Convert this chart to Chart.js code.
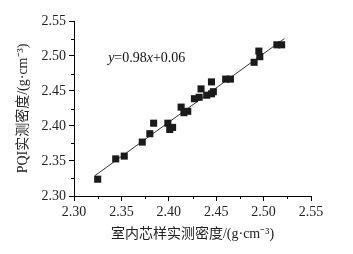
<!DOCTYPE html>
<html lang="zh">

<head>
    <meta charset="UTF-8">
    <title>PQI vs core density</title>
    <script src="https://cdn.jsdelivr.net/npm/chart.js"></script>
    <style>
        html, body { margin: 0; padding: 0; background: #fff; }
        #wrap { width: 353px; height: 254px; position: relative; }
    </style>
</head>

<body>
    <div id="wrap"><canvas id="densChart"></canvas></div>

    <script>
        // core sample density (x) vs PQI density (y), g/cm3
        const coreDensity = [2.325, 2.344, 2.353, 2.372, 2.380, 2.384, 2.399, 2.401, 2.404, 2.413,
            2.416, 2.420, 2.427, 2.432, 2.434, 2.440, 2.445, 2.445, 2.447, 2.460,
            2.465, 2.490, 2.496, 2.495, 2.514, 2.519];
        const pqiDensity = [2.324, 2.353, 2.357, 2.377, 2.389, 2.404, 2.404, 2.395, 2.398, 2.427,
            2.419, 2.421, 2.439, 2.441, 2.453, 2.444, 2.446, 2.463, 2.449, 2.467,
            2.467, 2.491, 2.499, 2.507, 2.516, 2.516];
        // fitted line end points
        const fitX = [2.322, 2.522];
        const fitY = [2.329, 2.525];
        const eqText = 'y=0.98x+0.06';
        const xTitle = '室内芯样实测密度/(g·cm⁻³)';
        const yTitle = 'PQI实测密度/(g·cm⁻³)';

        const serif = "'Liberation Serif', 'Times New Roman', 'Noto Sans CJK SC', serif";

        // minor ticks + equation label
        const extras = {
            id: 'extras',
            afterDraw(chart) {
                const ctx = chart.ctx;
                const xs = chart.scales.x, ys = chart.scales.y;
                ctx.save();
                ctx.strokeStyle = '#000';
                ctx.lineWidth = 1;
                ctx.beginPath();
                for (let v = 2.325; v < 2.55; v += 0.05) {
                    const px = Math.round(xs.getPixelForValue(v)) + 0.5;
                    ctx.moveTo(px, ys.bottom);
                    ctx.lineTo(px, ys.bottom + 3);
                    const py = Math.round(ys.getPixelForValue(v)) + 0.5;
                    ctx.moveTo(xs.left, py);
                    ctx.lineTo(xs.left - 3, py);
                }
                ctx.stroke();

                // equation, italic y and x
                let x = xs.getPixelForValue(2.336);
                const y = ys.getPixelForValue(2.497);
                ctx.fillStyle = '#111';
                ctx.textBaseline = 'middle';
                const parts = [['y', true], ['=0.98', false], ['x', true], ['+0.06', false]];
                parts.forEach(([t, it]) => {
                    ctx.font = (it ? 'italic ' : '') + '14px ' + serif;
                    ctx.fillText(t, x, y);
                    x += ctx.measureText(t).width;
                });
                ctx.restore();
            }
        };

        const ctx = document.getElementById('densChart').getContext('2d');
        new Chart(ctx, {
            type: 'scatter',
            data: {
                datasets: [{
                    label: 'data',
                    data: coreDensity.map((v, i) => ({ x: v, y: pqiDensity[i] })),
                    pointStyle: 'rect',
                    pointRadius: 5,
                    backgroundColor: '#1a1a1a',
                    borderColor: '#1a1a1a',
                    borderWidth: 0
                }, {
                    type: 'line',
                    label: 'fit',
                    data: fitX.map((v, i) => ({ x: v, y: fitY[i] })),
                    borderColor: '#333',
                    borderWidth: 1,
                    pointRadius: 0,
                    fill: false
                }]
            },
            options: {
                responsive: true,
                maintainAspectRatio: false,
                animation: false,
                layout: { padding: { left: 0, top: 21, right: 42, bottom: 0 } },
                plugins: { legend: { display: false }, tooltip: { enabled: false } },
                scales: {
                    x: {
                        type: 'linear',
                        min: 2.30,
                        max: 2.55,
                        afterFit: s => { s.height = 58; },
                        ticks: {
                            stepSize: 0.05,
                            color: '#222',
                            padding: 3,
                            font: { family: serif, size: 14 },
                            callback: v => v.toFixed(2)
                        },
                        grid: { drawOnChartArea: false, tickLength: 5, color: '#000' },
                        border: { color: '#000', width: 1 },
                        title: {
                            display: true,
                            text: xTitle,
                            color: '#222',
                            font: { family: serif, size: 14 },
                            padding: { top: 0, bottom: 11 }
                        }
                    },
                    y: {
                        type: 'linear',
                        min: 2.30,
                        max: 2.55,
                        afterFit: s => { s.width = 74; },
                        ticks: {
                            stepSize: 0.05,
                            color: '#222',
                            padding: 3,
                            font: { family: serif, size: 14 },
                            callback: v => v.toFixed(2)
                        },
                        grid: { drawOnChartArea: false, tickLength: 5, color: '#000' },
                        border: { color: '#000', width: 1 },
                        title: {
                            display: true,
                            text: yTitle,
                            color: '#222',
                            font: { family: serif, size: 14 },
                            padding: { top: 15, bottom: 0 }
                        }
                    }
                }
            },
            plugins: [extras]
        });
    </script>
</body>

</html>
